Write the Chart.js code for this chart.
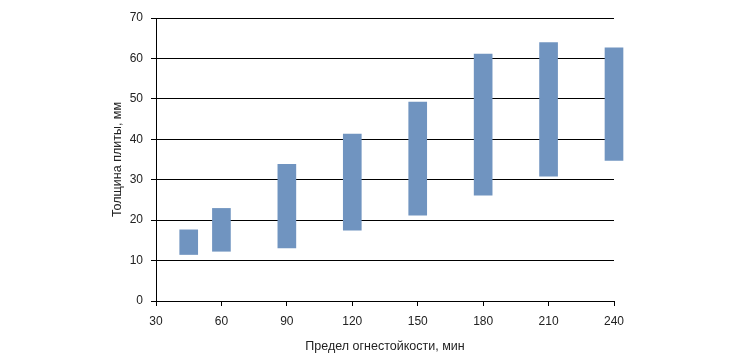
<!DOCTYPE html>
<html>
<head>
<meta charset="utf-8">
<script src="https://cdn.jsdelivr.net/npm/chart.js@4/dist/chart.umd.min.js"></script>
<style>
html,body{margin:0;padding:0;background:#fff;}
#wrap{width:736px;height:360px;position:relative;}
</style>
</head>
<body>
<div id="wrap"><canvas id="c" width="736" height="360"></canvas></div>
<script>
const fireLimits = [45, 60, 90, 120, 150, 180, 210, 240];
const thicknessMin = [11.5, 12.3, 13.1, 17.5, 21.2, 26.2, 30.9, 34.8];
const thicknessMax = [17.6, 22.9, 33.8, 41.3, 49.2, 61.1, 63.9, 62.6];
const xTicks = [30, 60, 90, 120, 150, 180, 210, 240];
const yTicks = [0, 10, 20, 30, 40, 50, 60, 70];

const data = fireLimits.map((x, i) => ({ x: x, y: [thicknessMin[i], thicknessMax[i]] }));

new Chart(document.getElementById('c'), {
  type: 'bar',
  data: {
    datasets: [{
      data: data,
      backgroundColor: '#7094C0',
      borderWidth: 0,
      barThickness: 18,
      clip: false
    }]
  },
  options: {
    responsive: false,
    animation: false,
    events: [],
    layout: { padding: { left: 105, right: 122, top: 18, bottom: 0 } },
    plugins: { legend: { display: false }, tooltip: { enabled: false } },
    scales: {
      x: {
        type: 'linear',
        min: 30, max: 240,
        offset: false,
        afterBuildTicks: s => { s.ticks = xTicks.map(v => ({ value: v })); },
        afterFit: s => { s.height = 59; },
        grid: { offset: false, drawOnChartArea: false, drawTicks: true, tickLength: 5, color: '#000' },
        border: { color: '#000', width: 1 },
        ticks: { color: '#222', font: { family: 'Liberation Sans', size: 12 }, padding: 8, maxRotation: 0 },
        title: { display: true, text: 'Предел огнестойкости, мин', color: '#222', font: { family: 'Liberation Sans', size: 12.5 }, padding: { top: 2, bottom: 6 } }
      },
      y: {
        min: 0, max: 70,
        afterBuildTicks: s => { s.ticks = yTicks.map(v => ({ value: v })); },
        afterFit: s => { s.width = 51; },
        grid: { color: '#000', tickLength: 5 },
        border: { color: '#000', width: 1 },
        ticks: { color: '#222', font: { family: 'Liberation Sans', size: 12 }, padding: 8 },
        title: { display: true, text: 'Толщина плиты, мм', color: '#222', font: { family: 'Liberation Sans', size: 12.5 }, padding: { top: 5, bottom: 0 } }
      }
    }
  }
});
</script>
</body>
</html>
